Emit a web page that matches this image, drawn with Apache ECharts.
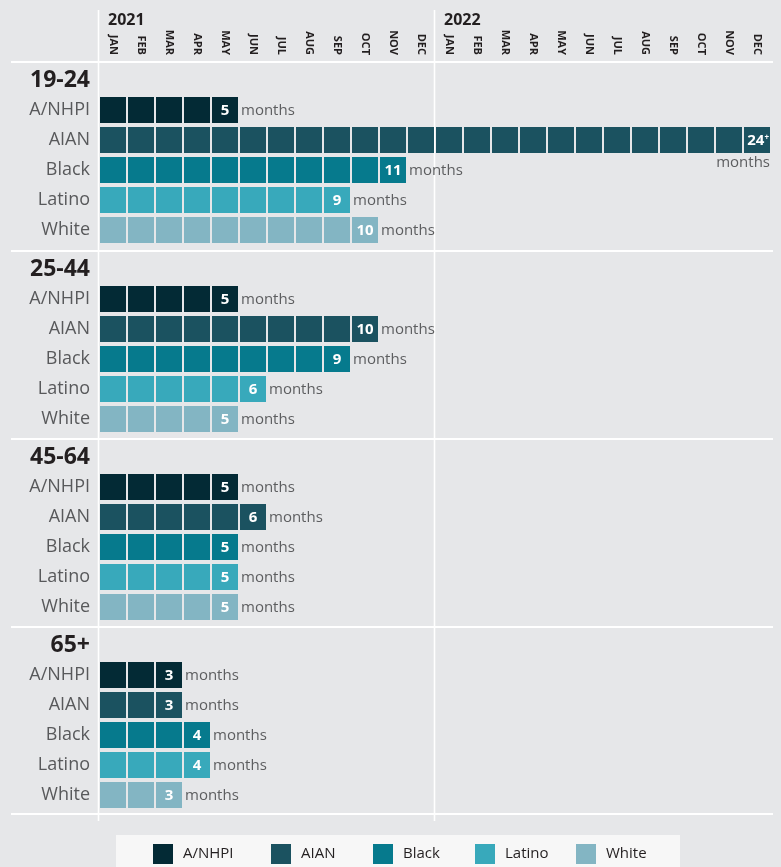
<!DOCTYPE html>
<html><head><meta charset="utf-8">
<script src="https://cdn.jsdelivr.net/npm/echarts@6/dist/echarts.min.js"></script>
<style>html,body{margin:0;padding:0;background:#e6e7e9}#c{width:781px;height:867px}</style>
</head><body><div id="c"></div>
<script>
// ---------- data ----------
const monthLabels = ['JAN','FEB','MAR','APR','MAY','JUN','JUL','AUG','SEP','OCT','NOV','DEC',
                     'JAN','FEB','MAR','APR','MAY','JUN','JUL','AUG','SEP','OCT','NOV','DEC'];
const years = ['2021', '2022'];
const races = ['A/NHPI', 'AIAN', 'Black', 'Latino', 'White'];
const ageGroups = ['19-24', '25-44', '45-64', '65+'];
const months19to24 = [5, 24, 11, 9, 10];
const months25to44 = [5, 10, 9, 6, 5];
const months45to64 = [5, 6, 5, 5, 5];
const months65plus = [3, 3, 4, 4, 3];
const capMonths = 24; // shown as "24+"
const groupValues = [months19to24, months25to44, months45to64, months65plus];

// ---------- style / layout ----------
const colors = ['#032a35', '#1b5260', '#067a8d', '#38a9bb', '#83b5c3'];
const FONT = '"Open Sans", "Noto Sans", sans-serif';
const GRID_LEFT = 99, SLOT_W = 28, GRID_W = SLOT_W * 24;
const gridTops = [65, 254, 442, 630];
const GRID_H = 180;

function renderCell(params, api) {
  const m = api.value(0), r = api.value(1), total = api.value(2);
  const c = api.coord([m, r]);
  const s = api.size([1, 1]);
  const w = s[0] - 2, h = s[1] - 4;
  const x = c[0] - w / 2, y = c[1] - h / 2;
  const fill = api.visual('color');
  const children = [{ type: 'rect', shape: { x: x, y: y, width: w, height: h }, style: { fill: fill } }];
  if (m === total - 1) {
    const capped = total >= capMonths;
    children.push({
      type: 'text', x: capped ? x + w - 1 : c[0], y: c[1] + 1,
      style: capped ? {
        text: '{n|' + total + '}{p|+}', align: 'right', verticalAlign: 'middle',
        rich: { n: { fill: '#fff', font: 'bold 15px ' + FONT }, p: { fill: '#fff', font: 'bold 8px ' + FONT, verticalAlign: 'top', padding: [0, 0, 6, 0] } }
      } : {
        text: String(total), fill: '#fff', font: 'bold 15px ' + FONT, align: 'center', verticalAlign: 'middle'
      }
    });
    children.push({
      type: 'text', x: capped ? x + w : x + w + 3, y: capped ? c[1] + 23 : c[1] + 1,
      style: { text: 'months', fill: '#5d5e60', font: '15px ' + FONT, align: capped ? 'right' : 'left', verticalAlign: 'middle' }
    });
  }
  return { type: 'group', children: children };
}

const grids = [], xAxes = [], yAxes = [], series = [];
ageGroups.forEach(function (ag, g) {
  grids.push({ left: GRID_LEFT, width: GRID_W, top: gridTops[g], height: GRID_H });
  xAxes.push({
    type: 'category', gridIndex: g, data: monthLabels, position: 'top', offset: 3,
    show: g === 0,
    axisLine: { show: false }, axisTick: { show: false }, splitLine: { show: false },
    axisLabel: { rotate: 90, interval: 0, margin: 7, fontSize: 11, fontWeight: 'bold', color: '#231f20', fontFamily: FONT }
  });
  yAxes.push({
    type: 'category', gridIndex: g, inverse: true, data: [ag].concat(races),
    axisLine: { show: false }, axisTick: { show: false }, splitLine: { show: false },
    axisLabel: {
      margin: 9, fontSize: 18, color: '#58595b', fontFamily: FONT,
      formatter: function (v, i) { return i === 0 ? '{h|' + v + '}' : v; },
      rich: { h: { fontSize: 23, fontWeight: 'bold', color: '#231f20', fontFamily: FONT } }
    }
  });
  groupValues[g].forEach(function (v, r) {
    const data = [];
    for (let m = 0; m < v; m++) data.push([m, r + 1, v]);
    series.push({
      type: 'custom', name: races[r], xAxisIndex: g, yAxisIndex: g,
      itemStyle: { color: colors[r] },
      encode: { x: 0, y: 1 }, dimensions: ['month', 'row', 'total'],
      renderItem: renderCell, data: data, z: 3, silent: true
    });
  });
});

const legendLefts = [153, 271, 373, 475, 576];
const legends = races.map(function (r, i) {
  return {
    data: [r], left: legendLefts[i], top: 844, padding: 0, icon: 'rect',
    itemWidth: 20, itemHeight: 20, selectedMode: false,
    textStyle: { fontSize: 15, color: '#231f20', fontFamily: FONT, padding: [3, 0, 0, 5] }
  };
});

// decorative guide lines / header texts
const graphics = [];
const lineStyle = { stroke: '#ffffff', lineWidth: 2 };
[62, 251, 439, 627, 814].forEach(function (yy) {
  graphics.push({ type: 'line', shape: { x1: 11, y1: yy, x2: 773, y2: yy }, style: lineStyle, z: 0 });
});
[GRID_LEFT - 0.5, GRID_LEFT + SLOT_W * 12 - 0.5].forEach(function (xx) {
  graphics.push({ type: 'line', shape: { x1: xx, y1: 10, x2: xx, y2: 821 }, style: { stroke: '#ffffff', lineWidth: 1.6 }, z: 0 });
});
years.forEach(function (yr, i) {
  graphics.push({ type: 'text', x: GRID_LEFT + 9 + i * SLOT_W * 12, y: 20, style: { text: yr, font: 'bold 16px ' + FONT, fill: '#231f20', verticalAlign: 'middle' }, z: 1 });
});
graphics.push({ type: 'rect', shape: { x: 116, y: 835, width: 564, height: 40 }, style: { fill: '#f7f7f7' }, z: -1 });

const chart = echarts.init(document.getElementById('c'), null, { renderer: 'canvas' });
chart.setOption({
  backgroundColor: '#e6e7e9',
  animation: false,
  grid: grids, xAxis: xAxes, yAxis: yAxes, series: series,
  legend: legends,
  graphic: graphics
});
</script></body></html>
